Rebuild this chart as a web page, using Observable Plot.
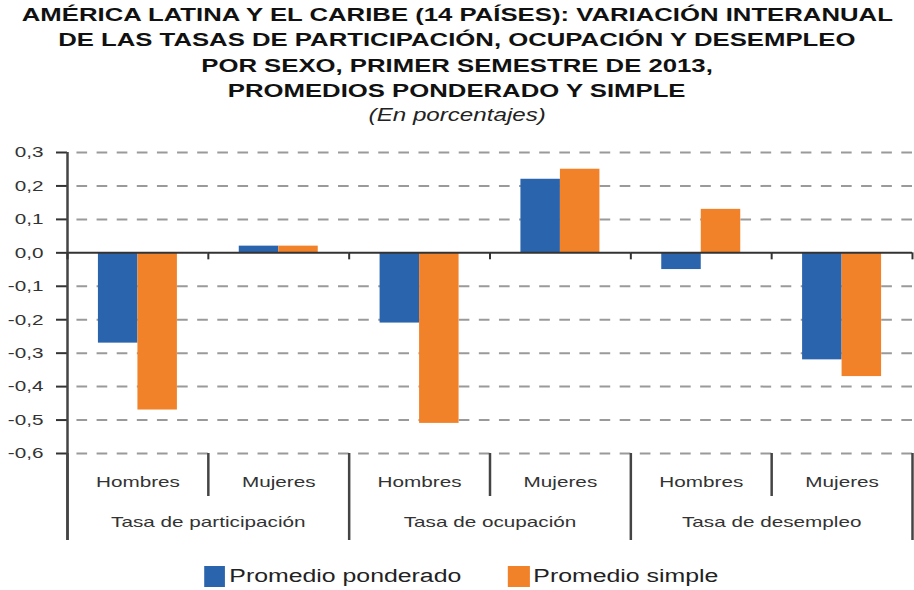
<!DOCTYPE html>
<html>
<head>
<meta charset="utf-8">
<script src="https://cdn.jsdelivr.net/npm/d3@7"></script>
<script src="https://cdn.jsdelivr.net/npm/@observablehq/plot@0.6"></script>
<style>
  html, body { margin: 0; padding: 0; background: #fff; }
  body { width: 914px; height: 590px; overflow: hidden; position: relative;
         font-family: 'Liberation Sans', Arial, Helvetica, sans-serif; }
  #title { height: 140px; box-sizing: border-box; padding-top: 1.6px; }
  .tl { text-align: center; font-weight: bold; font-size: 18.5px; line-height: 25.5px;
        color: #111; white-space: nowrap; }
  .sub { text-align: center; font-style: italic; font-size: 17.5px; line-height: 22px;
         color: #222; white-space: nowrap; }
  .tl span { display: inline-block; transform: scaleX(1.39); }
  .sub span { display: inline-block; transform: scaleX(1.38); }
  #chart svg { display: block; }
  #legend { position: absolute; top: 566px; left: 0; width: 914px;
            display: flex; justify-content: center; }
  #legend .row { display: flex; align-items: center; gap: 34px; margin-left: 8px;
                 transform: scaleX(1.38); }
  #legend .item { display: flex; align-items: center; }
  #legend .sw { width: 15.2px; height: 21px; margin-right: 3px; }
  #legend .lab { font-size: 18px; line-height: 21px; color: #222; white-space: nowrap; }
</style>
</head>
<body>
<div id="title"></div>
<div id="chart"></div>
<div id="legend"></div>
<script>
// ---- data ----
const titleLines = [
  "AMÉRICA LATINA Y EL CARIBE (14 PAÍSES): VARIACIÓN INTERANUAL",
  "DE LAS TASAS DE PARTICIPACIÓN, OCUPACIÓN Y DESEMPLEO",
  "POR SEXO, PRIMER SEMESTRE DE 2013,",
  "PROMEDIOS PONDERADO Y SIMPLE"
];
const subtitle = "(En porcentajes)";
const groupNames = ["Tasa de participación", "Tasa de ocupación", "Tasa de desempleo"];
const sexes = ["Hombres", "Mujeres"];
const series = ["Promedio ponderado", "Promedio simple"];
const ponderado = [-0.27, 0.02, -0.21, 0.22, -0.05, -0.32];
const simple    = [-0.47, 0.02, -0.51, 0.25, 0.13, -0.37];
const yTicks = [0.3, 0.2, 0.1, 0.0, -0.1, -0.2, -0.3, -0.4, -0.5, -0.6];
const yDomain = [-0.6, 0.3];
const colors = ["#2a64ad", "#f28229"];

// ---- derived table ----
const keys = groupNames.flatMap(g => sexes.map(s => g + "|" + s));
const data = keys.flatMap((k, i) => [
  {key: k, serie: series[0], value: ponderado[i]},
  {key: k, serie: series[1], value: simple[i]}
]);
const firstKeys = keys.filter(k => k.endsWith("|" + sexes[0]));
const secondKeys = keys.filter(k => k.endsWith("|" + sexes[1]));
const lastKey = keys[keys.length - 1];

// ---- title ----
const titleEl = document.getElementById("title");
titleLines.forEach(t => {
  const d = document.createElement("div"); d.className = "tl";
  const s = document.createElement("span"); s.textContent = t; d.appendChild(s);
  titleEl.appendChild(d);
});
{
  const d = document.createElement("div"); d.className = "sub";
  const s = document.createElement("span"); s.textContent = subtitle; d.appendChild(s);
  titleEl.appendChild(d);
}

// ---- layout ----
const W = 914, H = 415, ML = 67, MR = 2, MT = 12, MB = 102;
const innerH = H - MT - MB;
const step = (W - ML - MR) / keys.length;
const half = step / 2;
const zeroDy = -innerH * (0 - yDomain[0]) / (yDomain[1] - yDomain[0]);
const period = step / 7;
const dash = period * 0.53, gap = period - dash;
const fmt = v => d3.format(".1f")(v).replace("\u2212", "-").replace(".", ",");
const blank = () => "";
const lineStyle = {stroke: "#444", strokeWidth: 2.5, tickFormat: blank, label: null};
const shortStyle = {stroke: "#333", strokeWidth: 2, tickFormat: blank, label: null};

const plot = Plot.plot({
  width: W, height: H,
  marginLeft: ML, marginRight: MR, marginTop: MT, marginBottom: MB,
  style: {fontFamily: "'Liberation Sans', Arial, sans-serif", fontSize: "15px",
          background: "white", overflow: "visible", color: "#333"},
  fx: {domain: keys, padding: 0, round: false, label: null},
  x: {domain: series, paddingInner: 0, paddingOuter: 0.783, round: false, axis: null},
  y: {domain: yDomain, axis: null},
  color: {domain: series, range: colors},
  marks: [
    Plot.gridY(yTicks.filter(v => v !== 0), {
      stroke: "#9a9a9a", strokeOpacity: 1, strokeWidth: 2,
      strokeDasharray: `${dash},${gap}`, strokeDashoffset: dash
    }),
    Plot.barY(data, {fx: "key", x: "serie", y1: 0, y2: "value", fill: "serie"}),
    Plot.ruleY([0], {stroke: "#333", strokeWidth: 2}),
    Plot.axisY({ticks: yTicks, tickFormat: fmt, tickSize: 11, tickPadding: 13,
                fontSize: 15, fill: "#333", stroke: "#333", strokeWidth: 2, label: null}),
    // category labels
    Plot.axisFx({anchor: "bottom", tickSize: 0, tickPadding: 23, fontSize: 15, fill: "#333",
                 tickFormat: k => k.split("|")[1], label: null}),
    // group labels
    Plot.axisFx({anchor: "bottom", ticks: firstKeys, tickSize: 0, tickPadding: 63, fontSize: 15,
                 fill: "#333", dx: half, tickFormat: k => k.split("|")[0], label: null}),
    // left axis line
    Plot.axisFx({anchor: "bottom", ticks: [keys[0]], tickSize: innerH + 87, dy: -innerH, dx: -half, ...lineStyle}),
    // group dividers
    Plot.axisFx({anchor: "bottom", ticks: firstKeys, tickSize: 87, dx: -half, ...lineStyle}),
    Plot.axisFx({anchor: "bottom", ticks: [lastKey], tickSize: 87, dx: half, ...lineStyle}),
    // sub dividers
    Plot.axisFx({anchor: "bottom", ticks: secondKeys, tickSize: 43, dx: -half, ...lineStyle}),
    // ticks on zero line
    Plot.axisFx({anchor: "bottom", ticks: keys, tickSize: 7, dy: zeroDy, dx: -half, ...shortStyle}),
    Plot.axisFx({anchor: "bottom", ticks: [lastKey], tickSize: 7, dy: zeroDy, dx: half, ...shortStyle})
  ]
});
document.getElementById("chart").appendChild(plot);

// horizontal stretch of the glyphs, as in the reference
const S = 1.38;
plot.querySelectorAll("text").forEach(t => {
  const L = t.getComputedTextLength();
  if (L > 0) {
    t.setAttribute("textLength", (L * S).toFixed(2));
    t.setAttribute("lengthAdjust", "spacingAndGlyphs");
  }
});

// ---- legend ----
const row = document.createElement("div"); row.className = "row";
series.forEach((s, i) => {
  const it = document.createElement("div"); it.className = "item";
  const sw = document.createElement("div"); sw.className = "sw"; sw.style.background = colors[i];
  const lab = document.createElement("div"); lab.className = "lab"; lab.textContent = s;
  it.appendChild(sw); it.appendChild(lab); row.appendChild(it);
});
document.getElementById("legend").appendChild(row);
</script>
</body>
</html>
